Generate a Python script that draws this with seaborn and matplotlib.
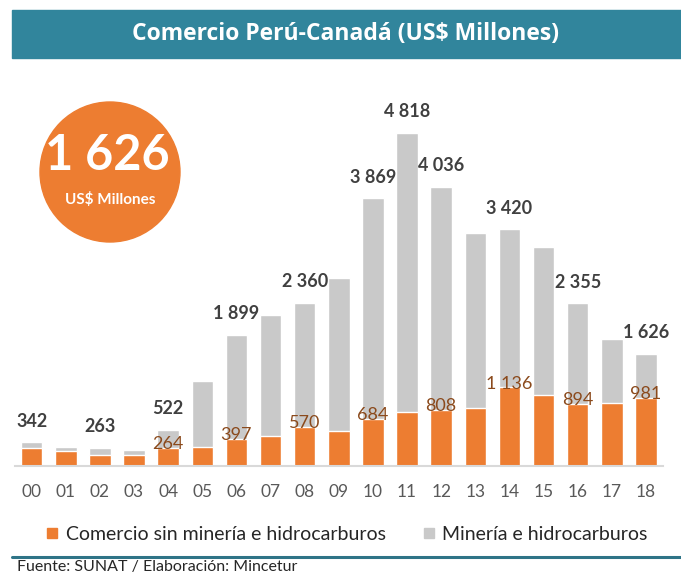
import numpy as np
import matplotlib.pyplot as plt
import seaborn as sns
from matplotlib.patches import Circle, Rectangle
from matplotlib.lines import Line2D

# data (US$ millones)
years = ["00", "01", "02", "03", "04", "05", "06", "07", "08", "09",
         "10", "11", "12", "13", "14", "15", "16", "17", "18"]
totals = [342, 279, 263, 231, 522, 1230, 1899, 2180, 2360, 2713,
          3869, 4818, 4036, 3362, 3420, 3160, 2355, 1833, 1626]
sin_mineria = [255, 212, 163, 160, 264, 279, 397, 437, 570, 505,
               684, 775, 808, 832, 1136, 1025, 894, 913, 981]
total_label_years = ["00", "02", "04", "06", "08", "10", "11", "12", "14", "16", "18"]
orange_label_years = ["04", "06", "08", "10", "12", "14", "16", "18"]

ORANGE = "#ED7D31"
GRAY = "#C9C9C9"
TEAL = "#31859C"
BROWN = "#8B4A1C"


def fmt(v):
    return f"{v:,}".replace(",", " ")


sns.set_style("white")
plt.rcParams["font.family"] = ["Lato", "DejaVu Sans"]

W, H = 681, 575
fig = plt.figure(figsize=(W / 100, H / 100), dpi=100)

# title banner
fig.patches.append(Rectangle((12 / W, 1 - 58 / H), 1 - 12 / W, 48 / H, transform=fig.transFigure,
                             color=TEAL, zorder=0))
fig.text(345 / W, 1 - 34 / H, "Comercio Perú-Canadá (US$ Millones)", ha="center", va="center",
         color="white", fontsize=16.5, fontweight="bold", family=["Open Sans", "DejaVu Sans"])

# chart
ax = fig.add_axes([14.6 / W, 1 - 466 / H, (663 - 14.6) / W, 359.7 / H])
sns.barplot(x=years, y=totals, color=GRAY, width=0.63, saturation=1,
            edgecolor="white", linewidth=1, ax=ax)
sns.barplot(x=years, y=sin_mineria, color=ORANGE, width=0.63, saturation=1,
            edgecolor="white", linewidth=1, ax=ax)
ax.set_ylim(0, 5200)
ax.set_xlim(-0.5, 18.5)
ax.set_xlabel("")
ax.set_ylabel("")
ax.set_yticks([])
for s in ["left", "right", "top"]:
    ax.spines[s].set_visible(False)
ax.spines["bottom"].set_color("#D9D9D9")
ax.spines["bottom"].set_linewidth(1.5)
ax.tick_params(axis="x", length=0, pad=13, labelsize=12.5, labelcolor="#595959")

for i, y in enumerate(years):
    if y in total_label_years:
        ax.annotate(fmt(totals[i]), (i, totals[i]), xytext=(0, 9), textcoords="offset points",
                    ha="center", va="bottom", fontsize=13, fontweight="bold", color="#404040")
    if y in orange_label_years:
        ax.annotate(fmt(sin_mineria[i]), (i, sin_mineria[i]), xytext=(0, -3), textcoords="offset points",
                    ha="center", va="bottom", fontsize=13, color=BROWN)

# highlight circle with last total
fig.patches.append(Circle((110 / 100, (H - 172) / 100), 0.70, transform=fig.dpi_scale_trans,
                          color=ORANGE, zorder=5))
fig.text(107 / W, 1 - 155 / H, fmt(totals[-1]), ha="center", va="center", color="white",
         fontsize=35, fontweight="bold", zorder=6)
fig.text(110 / W, 1 - 200 / H, "US$ Millones", ha="center", va="center", color="white",
         fontsize=11, fontweight="bold", zorder=6)

# legend
handles = [Line2D([], [], marker="s", color=ORANGE, linestyle="", markersize=7),
           Line2D([], [], marker="s", color=GRAY, linestyle="", markersize=7)]
fig.legend(handles, ["Comercio sin minería e hidrocarburos", "Minería e hidrocarburos"],
           loc="center", bbox_to_anchor=(347 / W, 1 - 534 / H), ncol=2, frameon=False,
           fontsize=14, handlelength=0.6, handletextpad=0.4, columnspacing=1.9,
           labelcolor="#262626")

# bottom rule and source
fig.add_artist(Line2D([12 / W, 1], [1 - 557 / H, 1 - 557 / H], color="#2E7487", linewidth=2.2,
                      transform=fig.transFigure))
fig.text(17 / W, 1 / H, "Fuente: SUNAT / Elaboración: Mincetur", ha="left", va="bottom",
         fontsize=11.5, color="#262626")

fig.savefig("out.png", dpi=100)
